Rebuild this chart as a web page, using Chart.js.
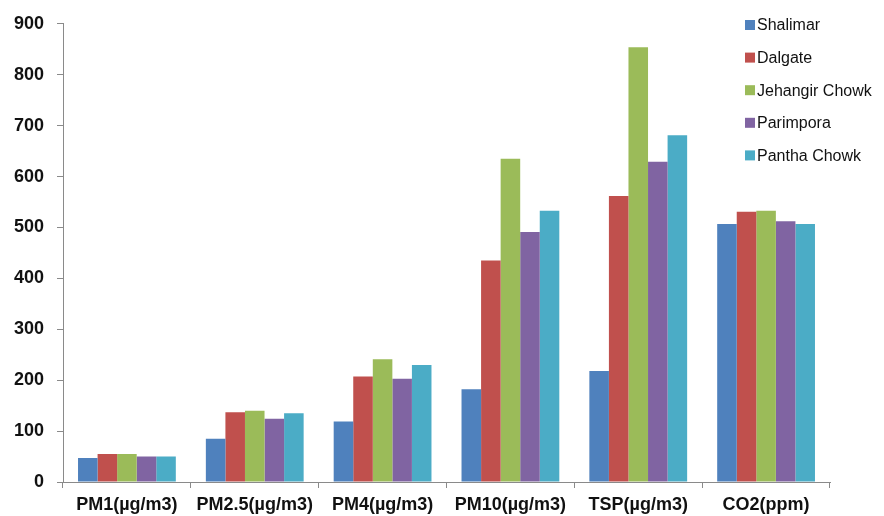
<!DOCTYPE html>
<html>
<head>
<meta charset="utf-8">
<script src="https://cdn.jsdelivr.net/npm/chart.js@4.4.1/dist/chart.umd.min.js"></script>
<style>
  html, body { margin: 0; padding: 0; background: #ffffff; }
  #wrap { width: 884px; height: 516px; }
</style>
</head>
<body>
<div id="wrap"><canvas id="c" width="884" height="516"></canvas></div>
<script>
// Pollutant categories along the x axis
const categories = ['PM1(µg/m3)', 'PM2.5(µg/m3)', 'PM4(µg/m3)', 'PM10(µg/m3)', 'TSP(µg/m3)', 'CO2(ppm)'];

// Monitoring sites
const sites = ['Shalimar', 'Dalgate', 'Jehangir Chowk', 'Parimpora', 'Pantha Chowk'];

// Concentrations per site, one value per category
const shalimar      = [47, 85, 119, 182, 218, 507];
const dalgate       = [55, 137, 207, 435, 562, 531];
const jehangirChowk = [55, 140, 241, 635, 854, 533];
const parimpora     = [50, 124, 203, 491, 629, 512];
const panthaChowk   = [50, 135, 230, 533, 681, 507];

// Y axis tick values
const yTicks = [0, 100, 200, 300, 400, 500, 600, 700, 800, 900];

const siteValues = [shalimar, dalgate, jehangirChowk, parimpora, panthaChowk];
const siteColors = ['#4F81BD', '#C0504D', '#9BBB59', '#8064A2', '#4BACC6'];

const FONT = "'Liberation Sans', Arial, sans-serif";
const AXIS_GRAY = '#8a8a8a';

// Legend drawn as a vertical list inside the top-right of the plot
const sideLegend = {
  id: 'sideLegend',
  afterDraw(chart) {
    const ctx = chart.ctx;
    ctx.save();
    ctx.font = '16px ' + FONT;
    ctx.textBaseline = 'middle';
    ctx.textAlign = 'left';
    const x = 745, y0 = 25, step = 32.6, box = 10;
    chart.data.datasets.forEach((ds, i) => {
      const y = y0 + i * step;
      ctx.fillStyle = ds.backgroundColor;
      ctx.fillRect(x, y - box / 2, box, box);
      ctx.fillStyle = '#111111';
      ctx.fillText(ds.label, x + 12, y + 1);
    });
    ctx.restore();
  }
};

new Chart(document.getElementById('c'), {
  type: 'bar',
  data: {
    labels: categories,
    datasets: sites.map((name, i) => ({
      label: name,
      data: siteValues[i],
      backgroundColor: siteColors[i],
      borderWidth: 0,
      categoryPercentage: 0.765,
      barPercentage: 1.0
    }))
  },
  options: {
    responsive: false,
    animation: false,
    devicePixelRatio: 1,
    layout: { padding: { left: 0, right: 54, top: 21, bottom: 0 } },
    plugins: {
      legend: { display: false },
      tooltip: { enabled: false }
    },
    scales: {
      x: {
        offset: true,
        grid: {
          offset: true,
          drawOnChartArea: false,
          drawTicks: true,
          tickLength: 6,
          color: AXIS_GRAY,
          lineWidth: 1
        },
        border: { display: true, color: AXIS_GRAY, width: 1 },
        ticks: {
          color: '#111111',
          font: { family: FONT, size: 18, weight: 'bold' },
          padding: 6,
          maxRotation: 0,
          autoSkip: false
        },
        afterFit(scale) { scale.height = 34; }
      },
      y: {
        min: 0,
        max: 900,
        afterBuildTicks(scale) { scale.ticks = yTicks.map(v => ({ value: v })); },
        grid: {
          drawOnChartArea: false,
          drawTicks: true,
          tickLength: 6,
          color: AXIS_GRAY,
          lineWidth: 1
        },
        border: { display: true, color: AXIS_GRAY, width: 1 },
        ticks: {
          color: '#111111',
          font: { family: FONT, size: 18, weight: 'bold' },
          padding: 13
        },
        afterFit(scale) { scale.width = 63; }
      }
    }
  },
  plugins: [sideLegend]
});
</script>
</body>
</html>
